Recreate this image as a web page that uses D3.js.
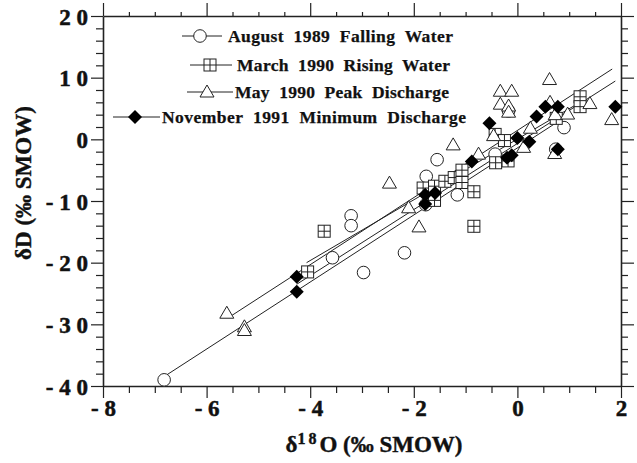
<!DOCTYPE html>
<html><head><meta charset="utf-8">
<script src="https://cdn.jsdelivr.net/npm/d3@7"></script>
<style>
body{margin:0;background:#fff;}
text{font-family:"Liberation Serif","Times New Roman",serif;font-weight:bold;fill:#111;}
</style></head>
<body><svg id="c" width="637" height="463"></svg>
<script>
// ---- data ----
const seriesNames = ["August  1989  Falling  Water","March  1990  Rising  Water","May  1990  Peak  Discharge","November  1991  Minimum  Discharge"];
const augX = [-6.82,-3.57,-3.21,-3.21,-2.97,-2.18,-1.55,-1.76,-1.77,-1.16,-0.43,-0.17,0.90,0.74];
const augY = [-39.0,-19.2,-12.4,-14.0,-21.6,-18.4,-3.3,-6.0,-10.6,-9.0,-2.4,4.6,1.9,-1.6];
const marX = [-4.05,-3.73,-0.84,-1.82,-1.60,-1.40,-1.22,-1.07,-1.07,-1.60,-0.84,-0.43,-0.25,-0.42,-0.18,0.75,1.21,1.21];
const marY = [-21.5,-14.9,-14.1,-7.9,-7.6,-6.8,-6.2,-5.0,-7.0,-9.9,-8.5,0.8,-0.2,-3.8,-3.5,3.4,6.9,5.3];
const mayX = [-5.61,-5.27,-5.27,-2.47,-2.10,-1.90,-1.24,-0.75,-0.46,-0.33,-0.11,-0.33,-0.17,-0.17,0.12,0.25,0.62,0.63,0.73,0.97,1.40,1.82,0.72];
const mayY = [-28.2,-30.4,-31.0,-7.1,-11.1,-14.2,-0.9,-2.4,0.6,7.8,7.8,5.7,5.4,4.4,-1.3,1.8,9.7,6.0,4.0,4.1,5.8,3.2,-2.3];
const novX = [-4.26,-4.26,-1.78,-1.59,-1.78,-0.88,-0.54,-0.20,-0.11,0.00,0.23,0.37,0.54,0.78,0.78,1.89];
const novY = [-22.3,-24.7,-9.0,-8.7,-10.5,-3.6,2.6,-3.0,-2.6,0.2,-0.4,3.7,5.3,5.3,-1.6,5.3];
// regression lines (x start, x end, y start, y end)
const fitX0 = [-6.77,-4.07,-5.52,-4.26];
const fitX1 = [0.90,1.21,1.83,1.89];
const fitY0 = [-38.2,-20.0,-28.6,-23.5];
const fitY1 = [3.5,6.0,11.4,9.45];
const xMajor = [-8,-6,-4,-2,0,2];
const yMajor = [-40,-30,-20,-10,0,10,20];

const svg = d3.select("#c");
const x = d3.scaleLinear().domain([-8,2]).range([103,621]);
const y = d3.scaleLinear().domain([-40,20]).range([386,16]);
const xMinor = d3.range(-8,2.01,0.5).filter(v=>!xMajor.includes(v));
const yMinor = d3.range(-40,20.01,2).filter(v=>!yMajor.includes(v));
const fmt = d => (d<0 ? "- " : "") + String(Math.abs(d)).split("").join(" ");

function styleAxis(g){
  g.select(".domain").attr("stroke","#222").attr("stroke-width",1.6);
  g.selectAll(".tick line").attr("stroke","#222").attr("stroke-width",1.2);
}
function styleLab(sel){
  sel.attr("font-size",23).style("font-family","Liberation Serif").style("font-weight","bold")
     .attr("fill","#111").attr("stroke","#111").attr("stroke-width",0.5);
}
// bottom
svg.append("g").attr("transform","translate(0,386)")
  .call(d3.axisBottom(x).tickValues(xMajor).tickSize(12).tickSizeOuter(0).tickFormat(fmt))
  .call(styleAxis)
  .call(g=>g.selectAll("text").attr("dy","0.55em").attr("y",17).call(styleLab));
svg.append("g").attr("transform","translate(0,386)")
  .call(d3.axisBottom(x).tickValues(xMinor).tickSize(7).tickSizeOuter(0).tickFormat(""))
  .call(styleAxis).call(g=>g.select(".domain").remove());
// top
svg.append("g").attr("transform","translate(0,16)")
  .call(d3.axisTop(x).tickValues(xMajor).tickSize(13).tickSizeOuter(0).tickFormat(""))
  .call(styleAxis);
svg.append("g").attr("transform","translate(0,16)")
  .call(d3.axisTop(x).tickValues(xMinor).tickSize(4).tickSizeOuter(0).tickFormat(""))
  .call(styleAxis).call(g=>g.select(".domain").remove());
// left
svg.append("g").attr("transform","translate(103,0)")
  .call(d3.axisLeft(y).tickValues(yMajor).tickSize(12).tickSizeOuter(0).tickFormat(fmt))
  .call(styleAxis)
  .call(g=>g.selectAll("text").attr("x",-15).attr("dy","0.35em").call(styleLab));
svg.append("g").attr("transform","translate(103,0)")
  .call(d3.axisLeft(y).tickValues(yMinor).tickSize(7).tickSizeOuter(0).tickFormat(""))
  .call(styleAxis).call(g=>g.select(".domain").remove());
// right
svg.append("g").attr("transform","translate(621,0)")
  .call(d3.axisRight(y).tickValues(yMajor).tickSize(13).tickSizeOuter(0).tickFormat(""))
  .call(styleAxis);
svg.append("g").attr("transform","translate(621,0)")
  .call(d3.axisRight(y).tickValues(yMinor).tickSize(7).tickSizeOuter(0).tickFormat(""))
  .call(styleAxis).call(g=>g.select(".domain").remove());

// axis titles
svg.append("text").attr("transform","translate(31,183) rotate(-90)").attr("text-anchor","middle")
  .attr("font-size",23).attr("stroke","#111").attr("stroke-width",0.4).text("δD (‰ SMOW)");
const xt = svg.append("text").attr("x",374).attr("y",452).attr("text-anchor","middle").attr("font-size",23)
  .attr("stroke","#111").attr("stroke-width",0.4);
xt.append("tspan").text("δ");
xt.append("tspan").attr("dy",-8).attr("font-size",16).attr("letter-spacing",3).text("18");
xt.append("tspan").attr("dy",8).text("O (‰ SMOW)");

// regression lines
const plot = svg.append("g");
plot.selectAll("line.fit").data(fitX0).join("line").attr("class","fit")
  .attr("x1",(d,i)=>x(fitX0[i])).attr("y1",(d,i)=>y(fitY0[i]))
  .attr("x2",(d,i)=>x(fitX1[i])).attr("y2",(d,i)=>y(fitY1[i]))
  .attr("stroke","#222").attr("stroke-width",1);

// marker drawing
function marker(g, type, cx, cy){
  if(type===0){
    g.append("circle").attr("cx",cx).attr("cy",cy).attr("r",6.3).attr("fill","#fff").attr("stroke","#222").attr("stroke-width",1);
  } else if(type===1){
    const s=12;
    g.append("rect").attr("x",cx-s/2).attr("y",cy-s/2).attr("width",s).attr("height",s).attr("fill","#fff").attr("stroke","#222").attr("stroke-width",1);
    g.append("line").attr("x1",cx).attr("x2",cx).attr("y1",cy-s/2).attr("y2",cy+s/2).attr("stroke","#222").attr("stroke-width",1);
    g.append("line").attr("x1",cx-s/2).attr("x2",cx+s/2).attr("y1",cy).attr("y2",cy).attr("stroke","#222").attr("stroke-width",1);
  } else if(type===2){
    g.append("path").attr("d",`M${cx},${cy-7}L${cx+7},${cy+5}L${cx-7},${cy+5}Z`).attr("fill","#fff").attr("stroke","#222").attr("stroke-width",1);
  } else {
    g.append("path").attr("d",`M${cx},${cy-7}L${cx+7},${cy}L${cx},${cy+7}L${cx-7},${cy}Z`).attr("fill","#000");
  }
}
const allX=[augX,marX,mayX,novX], allY=[augY,marY,mayY,novY];
allX.forEach((xs,k)=>{
  const g=plot.append("g");
  xs.forEach((v,i)=>marker(g,k,x(v),y(allY[k][i])));
});

// legend
const legMarkX=[200,210,207,135], legLine0=[182,190,187,113], legLine1=[222,232,233,160];
const legY=[36,65,92,117], legTextX=[228,237,235,162], legTextW=[225,213,214,304];
seriesNames.forEach((n,k)=>{
  const g=svg.append("g");
  g.append("line").attr("x1",legLine0[k]).attr("x2",legLine1[k]).attr("y1",legY[k]).attr("y2",legY[k]).attr("stroke","#222").attr("stroke-width",1);
  marker(g,k,legMarkX[k],legY[k]);
  g.append("text").attr("x",legTextX[k]).attr("y",legY[k]+5.5).attr("font-size",17.5)
   .attr("stroke","#111").attr("stroke-width",0.25)
   .attr("textLength",legTextW[k]).attr("lengthAdjust","spacing").style("white-space","pre").text(n);
});
</script></body></html>
